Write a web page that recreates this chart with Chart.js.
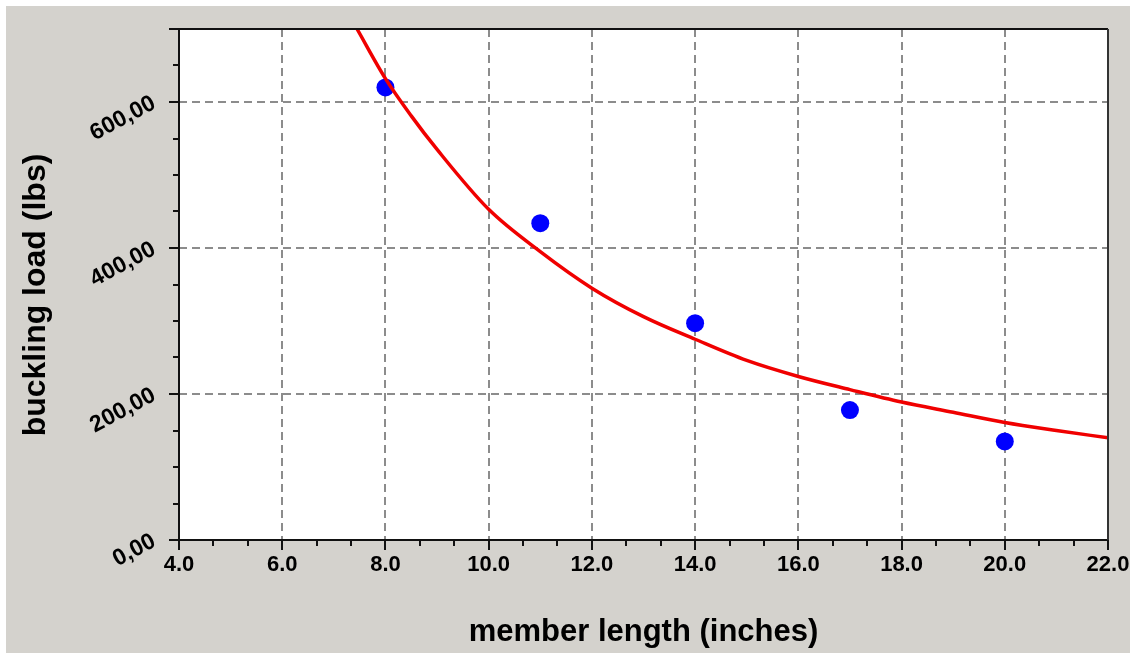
<!DOCTYPE html>
<html>
<head>
<meta charset="utf-8">
<script src="https://cdn.jsdelivr.net/npm/chart.js@4.4.1/dist/chart.umd.min.js"></script>
<style>
  html, body { margin: 0; padding: 0; background: #ffffff; }
  #wrap { position: absolute; left: 0; top: 0; width: 1137px; height: 655px; }
</style>
</head>
<body>
<div id="wrap"><canvas id="c" width="1137" height="655"></canvas></div>
<script>
// ---- data ----
const memberLength = [8, 11, 14, 17, 20];
const bucklingLoad = [620, 434, 297, 178, 135];

const fitX = [7.45, 8, 8.5, 9, 10, 11, 12, 13, 14, 15, 16, 17, 18, 19, 20, 21, 22];
const fitY = [700, 632, 581, 535, 453, 395, 345, 306, 275, 246, 224, 206, 189, 175, 161, 150, 140];

const xTickValues = [4, 6, 8, 10, 12, 14, 16, 18, 20, 22];
const yTickValues = [0, 200, 400, 600];

const xTitle = 'member length (inches)';
const yTitle = 'buckling load (lbs)';

const pointsData = memberLength.map((x, i) => ({ x: x, y: bucklingLoad[i] }));
const fitData = fitX.map((x, i) => ({ x: x, y: fitY[i] }));

const FONT = '"Liberation Sans", Arial, sans-serif';

function zeroPad(s) { s.paddingLeft = 0; s.paddingRight = 0; s.paddingTop = 0; s.paddingBottom = 0; }

const decor = {
  id: 'decor',
  beforeDraw(chart) {
    const ctx = chart.ctx;
    const a = chart.chartArea;
    ctx.save();
    ctx.fillStyle = '#ffffff';
    ctx.fillRect(0, 0, chart.width, chart.height);
    ctx.fillStyle = '#d4d2cd';
    ctx.fillRect(6, 6, 1124, 647);
    ctx.fillStyle = '#ffffff';
    ctx.fillRect(a.left, a.top, a.right - a.left, a.bottom - a.top);
    ctx.restore();
  },
  afterDraw(chart) {
    const ctx = chart.ctx;
    const a = chart.chartArea;
    const xs = chart.scales.x, ys = chart.scales.y;
    ctx.save();
    ctx.strokeStyle = '#111111';
    ctx.lineWidth = 2;
    ctx.beginPath();
    ctx.moveTo(a.left - 10, a.top); ctx.lineTo(a.right, a.top);
    ctx.moveTo(a.left, a.top); ctx.lineTo(a.left, a.bottom + 10);
    ctx.moveTo(a.left - 10, a.bottom); ctx.lineTo(a.right, a.bottom);
    ctx.stroke();
    ctx.strokeStyle = '#333333';
    ctx.beginPath();
    ctx.moveTo(a.right, a.top); ctx.lineTo(a.right, a.bottom + 10);
    ctx.stroke();
    ctx.strokeStyle = '#111111';
    ctx.beginPath();
    for (let v = 0; v <= 700; v += 50) {
      const p = Math.round(ys.getPixelForValue(v));
      const len = (v % 200 === 0) ? 10 : 6;
      ctx.moveTo(a.left - len, p); ctx.lineTo(a.left, p);
    }
    for (let k = 0; k <= 27; k++) {
      const v = 4 + k * 2 / 3;
      const p = Math.round(xs.getPixelForValue(v));
      const len = (k % 3 === 0) ? 10 : 6;
      ctx.moveTo(p, a.bottom); ctx.lineTo(p, a.bottom + len);
    }
    ctx.stroke();
    ctx.fillStyle = '#000000';
    ctx.font = 'bold 31px ' + FONT;
    ctx.textAlign = 'center';
    ctx.textBaseline = 'middle';
    ctx.fillText(xTitle, (a.left + a.right) / 2, 632);
    ctx.translate(36, 295);
    ctx.rotate(-Math.PI / 2);
    ctx.font = 'bold 32px ' + FONT;
    ctx.fillText(yTitle, 0, 0);
    ctx.restore();
  }
};

new Chart(document.getElementById('c'), {
  type: 'scatter',
  data: {
    datasets: [
      {
        label: 'fit',
        data: fitData,
        showLine: true,
        borderColor: '#f00000',
        borderWidth: 3.5,
        pointRadius: 0,
        cubicInterpolationMode: 'monotone',
        order: 0
      },
      {
        label: 'measured',
        data: pointsData,
        showLine: false,
        pointRadius: 9,
        pointHoverRadius: 9,
        backgroundColor: '#0000ff',
        borderColor: '#0000ff',
        borderWidth: 0,
        order: 1
      }
    ]
  },
  options: {
    responsive: false,
    animation: false,
    devicePixelRatio: 1,
    layout: { padding: { top: 29, right: 29, left: 0, bottom: 0 } },
    plugins: { legend: { display: false }, tooltip: { enabled: false } },
    scales: {
      x: {
        type: 'linear',
        min: 4, max: 22,
        afterBuildTicks: (s) => { s.ticks = xTickValues.map(v => ({ value: v })); },
        afterFit: (s) => { s.height = 115; zeroPad(s); },
        grid: { color: '#8c8c8c', lineWidth: 2, drawTicks: false },
        border: { display: false, dash: [8, 5] },
        ticks: {
          padding: 12,
          color: '#000000',
          maxRotation: 0,
          autoSkip: false,
          font: { family: FONT, size: 22, weight: 'bold' },
          callback: (v) => Number(v).toFixed(1)
        }
      },
      y: {
        type: 'linear',
        min: 0, max: 700,
        afterBuildTicks: (s) => { s.ticks = yTickValues.map(v => ({ value: v })); },
        afterFit: (s) => { s.width = 179; zeroPad(s); },
        grid: { color: '#8c8c8c', lineWidth: 2, drawTicks: false },
        border: { display: false, dash: [8, 5] },
        ticks: {
          padding: 25,
          minRotation: 28,
          maxRotation: 28,
          color: '#000000',
          font: { family: FONT, size: 23, weight: 'bold' },
          callback: (v) => Number(v).toFixed(2).replace('.', ',')
        }
      }
    }
  },
  plugins: [decor]
});
</script>
</body>
</html>
